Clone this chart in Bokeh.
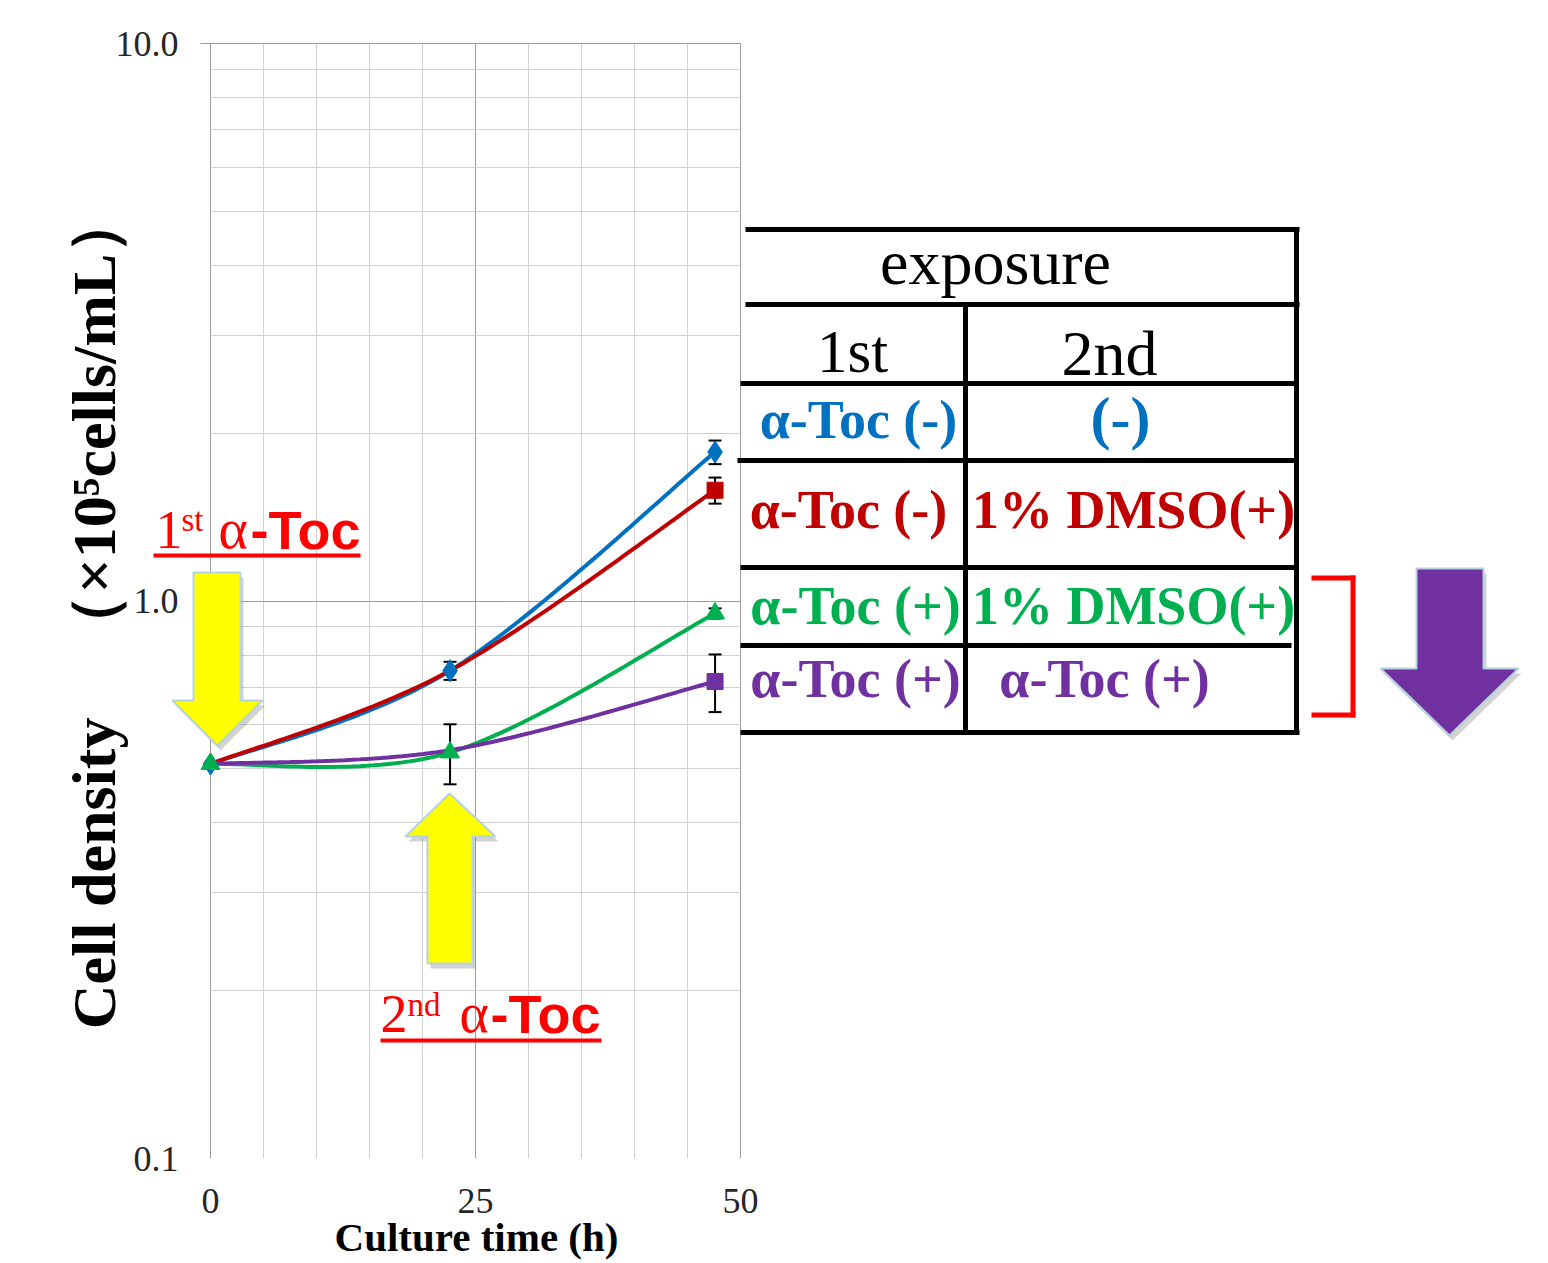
import numpy as np
from bokeh.plotting import figure
from bokeh.models import (ColumnDataSource, Whisker, TeeHead, FixedTicker, Grid,
                          PrintfTickFormatter, Label, PolyAnnotation, Range1d)
from bokeh.embed import file_html
from bokeh.resources import INLINE

# ---------------- data ----------------
time_h = [0.0, 22.6, 47.6]

density_blue = [0.51, 0.75, 1.85]      # 1st α-Toc(-) / 2nd (-)
err_blue = [0.0, 0.028, 0.09]
density_red = [0.51, 0.75, 1.58]       # 1st α-Toc(-) / 2nd 1% DMSO(+)
err_red = [0.0, 0.0, 0.085]
density_green = [0.51, 0.535, 0.95]    # 1st α-Toc(+) / 2nd 1% DMSO(+)
err_green = [0.0, 0.066, 0.02]
density_purple = [0.51, 0.54, 0.717]   # 1st α-Toc(+) / 2nd α-Toc(+)
err_purple = [0.0, 0.0, 0.085]

x_ticks = [0, 25, 50]
x_minor_ticks = [5, 10, 15, 20, 30, 35, 40, 45]
y_ticks = [0.1, 1.0, 10.0]
y_minor_ticks = [0.2, 0.3, 0.4, 0.5, 0.6, 0.7, 0.8, 0.9, 2, 3, 4, 5, 6, 7, 8, 9]

x_title = "Culture time (h)"
y_title = "Cell density\u3000（×10⁵cells/mL）"

table_title = "exposure"
table_cols = ["1st", "2nd"]
table_rows = [("α-Toc (-)", "(-)"),
              ("α-Toc (-)", "1% DMSO(+)"),
              ("α-Toc (+)", "1% DMSO(+)"),
              ("α-Toc (+)", "α-Toc (+)")]

BLUE, RED, GREEN, PURPLE = "#0070C0", "#C00000", "#00B050", "#7030A0"
# (values, errors, colour, marker, size, index of first point with a marker)
series = [
    (density_blue, err_blue, BLUE, "diamond", 22, 0),
    (density_red, err_red, RED, "square", 16, 2),
    (density_green, err_green, GREEN, "triangle", 19, 0),
    (density_purple, err_purple, PURPLE, "square", 16, 2),
]

# ---------------- layout geometry (pixels) ----------------
W, H = 1540, 1263
LEFT_BORDER = 150
PX0, PX50 = 210.0, 740.0        # x = 0 and x = 50
PY10, PY01 = 43.0, 1158.0       # y = 10 and y = 0.1 (frame bottom)
SX = (PX50 - PX0) / 50.0
SY = (PY01 - PY10) / 2.0


def dx(px):
    return (px - PX0) / SX


def dy(py):
    return 10 ** (1 - (py - PY10) / SY)


p = figure(width=W, height=H, title=None,
           x_range=Range1d(dx(LEFT_BORDER), dx(W)),
           y_range=Range1d(0.1, dy(0)), y_axis_type="log",
           min_border_left=LEFT_BORDER, min_border_right=0, min_border_top=0,
           min_border_bottom=int(H - PY01),
           output_backend="svg", toolbar_location=None,
           background_fill_color="white", border_fill_color="white")
p.outline_line_color = None

MAJOR, MINOR = "#9c9c9c", "#d0d0d0"
xt = FixedTicker(ticks=x_ticks, minor_ticks=x_minor_ticks)
yt = FixedTicker(ticks=y_ticks, minor_ticks=[])
p.xaxis.ticker = xt
p.yaxis.ticker = yt
p.yaxis.formatter = PrintfTickFormatter(format="%.1f")

# grid lines only over the chart area
p.xgrid.ticker = xt
p.xgrid.bounds = (0, 50)
p.xgrid.cross_bounds = (0.1, 10)
p.xgrid.grid_line_color = MAJOR
p.xgrid.minor_grid_line_color = MINOR
p.ygrid.ticker = yt
p.ygrid.bounds = (0.1, 10)
p.ygrid.cross_bounds = (dx(200), 50)     # decade lines run out over the tick marks
p.ygrid.grid_line_color = MAJOR
p.add_layout(Grid(dimension=1, ticker=FixedTicker(ticks=y_minor_ticks), bounds=(0.1, 10),
                  cross_bounds=(0, 50), grid_line_color=MINOR))

for ax in (p.xaxis, p.yaxis):
    ax.axis_line_color = None
    ax.major_tick_line_color = None
    ax.minor_tick_line_color = None
    ax.major_tick_out = 0
    ax.major_tick_in = 0
    ax.minor_tick_out = 0
    ax.minor_tick_in = 0
    ax.major_label_text_font = "Liberation Serif"
    ax.major_label_text_font_size = "36px"
    ax.major_label_text_color = "#262626"
    ax.axis_label_text_font = "Liberation Serif"
    ax.axis_label_text_font_style = "bold"
    ax.axis_label_text_color = "black"

# x title is centred on the frame; trailing em-spaces move it over the chart area
x_font = 41
x_pad = int(round(2 * ((LEFT_BORDER + W) / 2.0 - 478) / x_font))
p.xaxis.bounds = (0, 50)
p.xaxis.major_label_standoff = 30
p.xaxis.axis_label = x_title + "\u2003" * x_pad
p.xaxis.axis_label_text_font_size = f"{x_font}px"
p.xaxis.axis_label_standoff = -2

p.yaxis.bounds = (0.1, 10)
p.yaxis.major_label_standoff = -int(178 - LEFT_BORDER)   # labels end at x = 178
p.yaxis.axis_label = y_title + "\u2003"
p.yaxis.axis_label_text_font_size = "62px"
p.yaxis.axis_label_standoff = -15


# ---------------- smoothed series lines (Excel-like smoothing) ----------------
def smooth(xs, ys, n=40):
    P = np.column_stack([np.asarray(xs, float) * SX, np.log10(np.asarray(ys, float)) * SY])
    m = len(P)
    out = [P[0]]
    t = np.linspace(0, 1, n)[1:, None]
    for i in range(m - 1):
        p0, p1, p2, p3 = P[max(i - 1, 0)], P[i], P[i + 1], P[min(i + 2, m - 1)]
        c1 = p1 + (p2 - p0) / 6.0
        c2 = p2 - (p3 - p1) / 6.0
        seg = (1 - t) ** 3 * p1 + 3 * (1 - t) ** 2 * t * c1 + 3 * (1 - t) * t ** 2 * c2 + t ** 3 * p2
        out.extend(seg)
    out = np.array(out)
    return out[:, 0] / SX, 10 ** (out[:, 1] / SY)


for ys, es, col, mk, sz, first in series:
    idx = [i for i, e in enumerate(es) if e > 0]
    if idx:
        src = ColumnDataSource(dict(x=[time_h[i] for i in idx],
                                    up=[ys[i] + es[i] for i in idx],
                                    lo=[ys[i] - es[i] for i in idx]))
        p.add_layout(Whisker(source=src, base="x", upper="up", lower="lo", dimension="height",
                             line_color="black", line_width=2,
                             upper_head=TeeHead(size=13, line_color="black", line_width=2),
                             lower_head=TeeHead(size=13, line_color="black", line_width=2)))

for ys, es, col, mk, sz, first in series:
    sx, sy = smooth(time_h, ys)
    p.line(sx, sy, line_color=col, line_width=4)

for ys, es, col, mk, sz, first in series:
    p.scatter(time_h[first:], ys[first:], marker=mk, size=sz, fill_color=col, line_color=col)


# ---------------- decorations (positioned in reference-pixel terms) ----------------
def poly(pts, fill, line=None, lw=0, alpha=1.0):
    p.add_layout(PolyAnnotation(xs=[dx(a) for a, b in pts], ys=[dy(b) for a, b in pts],
                                fill_color=fill, fill_alpha=alpha,
                                line_color=line, line_width=lw, line_alpha=1.0 if line else 0.0))


def rect(x0, y0, x1, y1, color):
    poly([(x0, y0), (x1, y0), (x1, y1), (x0, y1)], color)


BASE_SHIFT = 0.36   # Label's alphabetic anchor sits lower than the baseline by ~0.36 em


def text(s, px, py, size, color="black", font="Liberation Serif", style="normal",
         align="left"):
    p.add_layout(Label(x=dx(px), y=dy(py - BASE_SHIFT * size), text=s, text_font=font,
                       text_font_size=f"{size}px", text_font_style=style, text_color=color,
                       text_align=align, text_baseline="alphabetic"))


def block_arrow(pts, color):
    poly([(a + 3, b + 5) for a, b in pts], "#606060", alpha=0.28)
    poly(pts, color, line="#b4d4dc", lw=2)


# yellow arrows
block_arrow([(193, 572), (240, 572), (240, 700), (262, 700), (217, 745), (172, 700), (193, 700)], "#FFFF00")
block_arrow([(427, 963), (472, 963), (472, 836), (495, 836), (449, 793), (405, 836), (427, 836)], "#FFFF00")
# purple arrow
block_arrow([(1416, 568), (1483, 568), (1483, 668), (1518, 668), (1449, 735), (1380, 668), (1416, 668)], PURPLE)

# red bracket
rect(1311, 575, 1355, 580, "#FF0000")
rect(1350, 575, 1355, 717, "#FF0000")
rect(1311, 712, 1355, 717, "#FF0000")

# "1st α-Toc" annotation
text("1", 155, 549, 54, "#FF0000")
text("st", 181, 531, 33, "#FF0000")
text("α", 218, 549, 56, "#FF0000")
text("-Toc", 250, 549, 54, "#FF0000", font="Liberation Sans", style="bold")
rect(153, 553, 360, 557, "#FF0000")

# "2nd α-Toc" annotation
text("2", 380, 1033, 54, "#FF0000")
text("nd", 407, 1016, 33, "#FF0000")
text("α", 459, 1033, 56, "#FF0000")
text("-Toc", 490, 1033, 54, "#FF0000", font="Liberation Sans", style="bold")
rect(380, 1038, 601, 1042, "#FF0000")

# table lines
for x0, x1, y in [(745, 1299, 229), (745, 1299, 304), (740, 1294, 383), (737, 1294, 460),
                  (740, 1298, 567), (740, 1291, 645), (740, 1299, 732)]:
    rect(x0, y - 2.5, x1, y + 2.5, "black")
rect(962.5, 304, 967.5, 732, "black")
rect(1293.5, 227, 1298.5, 734, "black")

# table texts
text(table_title, 995, 285, 64, align="center")
text(table_cols[0], 852, 373, 61, align="center")
text(table_cols[1], 1109, 376, 64, align="center")
row_colors = [BLUE, RED, GREEN, PURPLE]
row_base = [439, 529, 625, 698]
col1_center = [858, 848, 855, 855]
col2_center = [1120, 1133, 1133, 1104]
col2_size = [60, 54, 54, 54]
for (c1, c2), col, yb, xc1, xc2, s2 in zip(table_rows, row_colors, row_base, col1_center, col2_center, col2_size):
    text(c1, xc1, yb, 54, col, style="bold", align="center")
    text(c2, xc2, yb, s2, col, style="bold", align="center")

open("out.html", "w").write(file_html(p, INLINE))
